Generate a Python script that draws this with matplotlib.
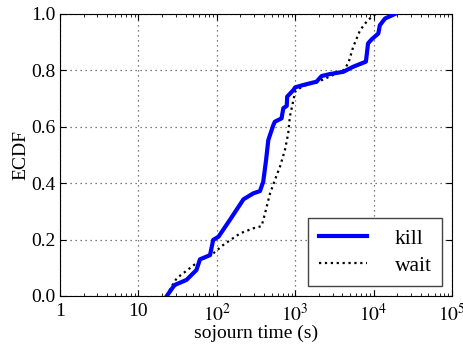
import matplotlib
matplotlib.use("Agg")
import matplotlib.pyplot as plt
from matplotlib.ticker import FixedLocator, FixedFormatter, LogLocator, NullFormatter

plt.rcParams['font.family'] = ['Liberation Serif', 'DejaVu Serif']
plt.rcParams['mathtext.fontset'] = 'stix'

# kill series (sojourn time s, ECDF)
kill_x = [23, 27.9, 29, 41, 55, 61, 82, 90, 105, 147, 219, 292, 355, 391, 425, 454,
          526, 550, 670, 705, 780, 790, 946, 1000, 1260, 1870, 2170, 2770, 4100,
          5500, 7980, 8500, 9440, 11500, 12000, 14000, 18700]
kill_y = [0.0, 0.033, 0.039, 0.057, 0.092, 0.13, 0.145, 0.199, 0.21, 0.27, 0.343,
          0.364, 0.372, 0.405, 0.482, 0.553, 0.606, 0.618, 0.63, 0.666, 0.674,
          0.707, 0.73, 0.74, 0.748, 0.76, 0.78, 0.787, 0.795, 0.813, 0.831,
          0.896, 0.91, 0.931, 0.96, 0.984, 1.0]

# wait series
wait_x = [23, 26, 30.8, 48, 58, 90, 121, 198, 292, 373, 412, 478, 550, 640, 740,
          815, 855, 929, 1000, 1260, 1870, 4100, 4760, 5500, 6740, 8160, 9960,
          11500]
wait_y = [0.0, 0.03, 0.063, 0.104, 0.122, 0.151, 0.181, 0.222, 0.24, 0.248, 0.293,
          0.364, 0.411, 0.459, 0.518, 0.577, 0.636, 0.683, 0.725, 0.745, 0.757,
          0.80, 0.825, 0.884, 0.943, 0.973, 0.996, 1.0]

xticks = [1, 10, 100, 1000, 10000, 100000]
xticklabels = ['1', '10', r'$10^2$', r'$10^3$', r'$10^4$', r'$10^5$']
yticks = [0.0, 0.2, 0.4, 0.6, 0.8, 1.0]

fig = plt.figure(figsize=(4.64, 3.49), dpi=100)
ax = fig.add_axes([60/464, 53/349, 392/464, 282/349])

ax.plot(kill_x, kill_y, color='#0000ff', lw=3.0, label='kill', zorder=3)
ax.plot(wait_x, wait_y, color='black', lw=1.6, ls=':', label='wait', zorder=2)

ax.set_xscale('log')
ax.set_xlim(1, 1e5)
ax.set_ylim(0, 1)
ax.xaxis.set_major_locator(FixedLocator(xticks))
ax.xaxis.set_major_formatter(FixedFormatter(xticklabels))
ax.xaxis.set_minor_locator(LogLocator(base=10, subs=range(2, 10)))
ax.xaxis.set_minor_formatter(NullFormatter())
ax.set_yticks(yticks)
ax.set_yticklabels(['%.1f' % v for v in yticks])

ax.tick_params(which='both', direction='in', top=True, right=True, labelsize=14)
ax.tick_params(which='major', length=4, width=0.8)
ax.tick_params(which='minor', length=2, width=0.6)
ax.tick_params(axis='x', pad=5)
ax.grid(True, which='major', ls=(0, (1, 3)), color='#555555', lw=0.9)

ax.set_xlabel('sojourn time (s)', fontsize=14, labelpad=0)
ax.set_ylabel('ECDF', fontsize=14, labelpad=1)

leg = ax.legend(loc='lower right', fontsize=15.5, fancybox=False, framealpha=1,
                edgecolor='#444444', handlelength=2.2, handletextpad=1.3,
                borderaxespad=0.45, labelspacing=0.3, borderpad=0.5)
leg.get_frame().set_linewidth(1.0)

fig.savefig('out.png', dpi=100)
